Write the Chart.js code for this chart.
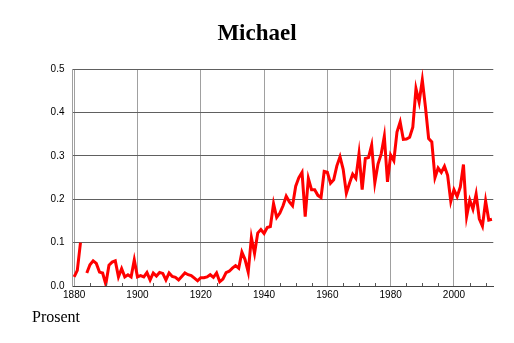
<!DOCTYPE html>
<html>
<head>
<meta charset="utf-8">
<script src="https://cdn.jsdelivr.net/npm/chart.js@4/dist/chart.umd.min.js"></script>
<style>
  html, body { margin: 0; padding: 0; background: #fff; }
  #wrap { position: relative; width: 514px; height: 343px; }
  #unit {
    position: absolute; left: 32px; top: 309px;
    font: 16px "Liberation Serif", "Times New Roman", serif;
    line-height: 16px; color: #000;
  }
</style>
</head>
<body>
<div id="wrap">
  <canvas id="chart" width="514" height="343"></canvas>
  <div id="unit">Prosent</div>
</div>
<script>
// share of newborn boys named Michael, per cent, 1880-2012 (1883 missing)
const firstYear = 1880;
const shares = [
  0.021, 0.036, 0.100, null, 0.030, 0.049, 0.058, 0.052, 0.032, 0.030,
  0.004, 0.048, 0.055, 0.058, 0.021, 0.040, 0.021, 0.026, 0.021, 0.060,
  0.021, 0.024, 0.021, 0.031, 0.014, 0.030, 0.023, 0.031, 0.029, 0.014,
  0.030, 0.022, 0.020, 0.014, 0.022, 0.030, 0.026, 0.024, 0.018, 0.012,
  0.019, 0.019, 0.021, 0.026, 0.020, 0.030, 0.010, 0.016, 0.031, 0.034,
  0.041, 0.047, 0.041, 0.078, 0.061, 0.032, 0.112, 0.075, 0.122, 0.130,
  0.121, 0.135, 0.137, 0.190, 0.158, 0.168, 0.185, 0.207, 0.194, 0.185,
  0.230, 0.250, 0.262, 0.160, 0.248, 0.222, 0.222, 0.209, 0.204, 0.264,
  0.262, 0.237, 0.245, 0.277, 0.298, 0.269, 0.214, 0.237, 0.258, 0.248,
  0.305, 0.222, 0.294, 0.296, 0.325, 0.238, 0.281, 0.304, 0.345, 0.240,
  0.302, 0.289, 0.355, 0.378, 0.338, 0.339, 0.343, 0.366, 0.455, 0.424,
  0.475, 0.412, 0.340, 0.332, 0.250, 0.272, 0.262, 0.276, 0.255, 0.195,
  0.222, 0.206, 0.228, 0.280, 0.160, 0.198, 0.177, 0.212, 0.155, 0.138,
  0.196, 0.152, 0.154
];
const years = shares.map((_, i) => firstYear + i);
const xTicks = [1880, 1900, 1920, 1940, 1960, 1980, 2000];
const xMinorTicks = [1885, 1890, 1895, 1905, 1910, 1915, 1925, 1930, 1935, 1945, 1950, 1955,
                     1965, 1970, 1975, 1985, 1990, 1995, 2005, 2010];
const yTicks = [0, 0.1, 0.2, 0.3, 0.4, 0.5];

const sansFont = '"Liberation Sans", Arial, Helvetica, sans-serif';

// little inward tick marks on the bottom axis every 5 years
const minorTicks = {
  id: 'minorTicks',
  afterDraw(chart) {
    const x = chart.scales.x;
    const ctx = chart.ctx;
    const bottom = chart.chartArea.bottom;
    ctx.save();
    ctx.strokeStyle = '#555';
    ctx.lineWidth = 1;
    xMinorTicks.forEach(v => {
      const px = Math.round(x.getPixelForValue(v)) + 0.5;
      ctx.beginPath();
      ctx.moveTo(px, bottom);
      ctx.lineTo(px, bottom - 3);
      ctx.stroke();
    });
    ctx.restore();
  }
};

new Chart(document.getElementById('chart'), {
  type: 'line',
  data: {
    datasets: [{
      data: years.map((y, i) => ({ x: y, y: shares[i] })),
      borderColor: '#ff0000',
      borderWidth: 3,
      pointRadius: 0,
      tension: 0,
      spanGaps: false
    }]
  },
  options: {
    responsive: false,
    animation: false,
    layout: { padding: 0 },
    plugins: {
      legend: { display: false },
      tooltip: { enabled: false },
      title: {
        display: true,
        text: 'Michael',
        color: '#000',
        font: { family: '"Liberation Serif", "Times New Roman", serif', size: 23, weight: 'bold' },
        padding: { top: 20, bottom: 21.5 }
      }
    },
    scales: {
      x: {
        type: 'linear',
        min: 1879.48,
        max: 2012.43,
        afterBuildTicks: s => { s.ticks = xTicks.map(v => ({ value: v })); },
        afterFit: s => { s.height = 57; },
        ticks: {
          color: '#000',
          font: { family: sansFont, size: 10 },
          padding: 3,
          maxRotation: 0,
          callback: v => String(v)
        },
        grid: { color: '#a0a0a0', drawTicks: false },
        border: { display: true, color: '#444', width: 1 }
      },
      y: {
        min: 0,
        max: 0.5,
        afterBuildTicks: s => { s.ticks = yTicks.map(v => ({ value: v })); },
        afterFit: s => { s.width = 72.5; },
        ticks: {
          color: '#000',
          font: { family: sansFont, size: 10 },
          padding: 8,
          callback: v => v.toFixed(1)
        },
        grid: { color: '#606060', drawTicks: false },
        border: { display: true, color: '#a0a0a0', width: 1 }
      },
      // empty right-hand strip so the plot stops short of the edge
      // while the title stays centred on the whole canvas
      yRight: {
        position: 'right',
        min: 0,
        max: 0.5,
        afterFit: s => { s.width = 20.7; },
        ticks: { display: false },
        grid: { display: false, drawTicks: false },
        border: { display: false }
      }
    }
  },
  plugins: [minorTicks]
});
</script>
</body>
</html>
